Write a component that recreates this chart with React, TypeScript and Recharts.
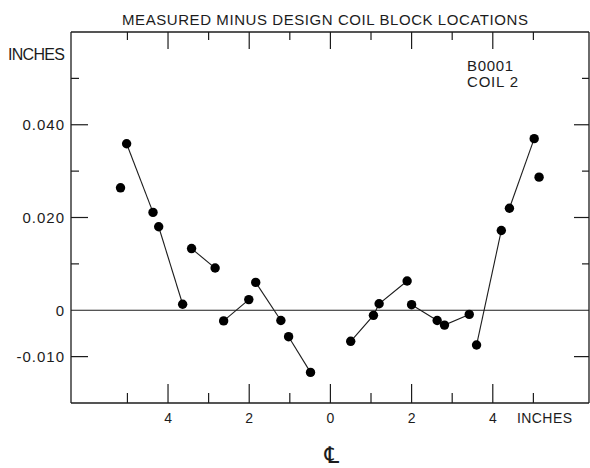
import React from "react";
import { ComposedChart, Line, XAxis, YAxis, ReferenceLine } from "recharts";

// tick positions and labels
const xTicks = [-5, -4, -3, -2, -1, 0, 1, 2, 3, 4, 5];
const xLabeled = [-4, -2, 0, 2, 4];
const yTicks = [-0.01, 0, 0.01, 0.02, 0.03, 0.04, 0.05];
const yLabelValues = [-0.01, 0, 0.02, 0.04];
const yLabelText = ["-0.010", "0", "0.020", "0.040"];

// measured minus design, left of centre line
const segA = [{ x: -5.17, y: 0.0264 }];
const segB = [
  { x: -5.02, y: 0.0359 },
  { x: -4.37, y: 0.0211 },
];
const segC = [
  { x: -4.23, y: 0.018 },
  { x: -3.64, y: 0.0013 },
];
const segD = [
  { x: -3.42, y: 0.0133 },
  { x: -2.84, y: 0.0091 },
];
const segE = [
  { x: -2.63, y: -0.0023 },
  { x: -2.01, y: 0.0023 },
];
const segF = [
  { x: -1.84, y: 0.006 },
  { x: -1.22, y: -0.0022 },
];
const segG = [
  { x: -1.03, y: -0.0057 },
  { x: -0.49, y: -0.0134 },
];

// right of centre line
const segH = [
  { x: 0.5, y: -0.0067 },
  { x: 1.06, y: -0.0011 },
  { x: 1.2, y: 0.0014 },
  { x: 1.89, y: 0.0063 },
];
const segI = [
  { x: 2.0, y: 0.0012 },
  { x: 2.63, y: -0.0022 },
  { x: 2.81, y: -0.0032 },
  { x: 3.42, y: -0.0009 },
];
const segJ = [
  { x: 3.6, y: -0.0075 },
  { x: 4.21, y: 0.0172 },
];
const segK = [
  { x: 4.41, y: 0.022 },
  { x: 5.02, y: 0.037 },
];
const segL = [{ x: 5.14, y: 0.0287 }];

const segments = [segA, segB, segC, segD, segE, segF, segG, segH, segI, segJ, segK, segL];

const ink = "#1c1c1c";
const font = "'Liberation Sans', Arial, sans-serif";

const BottomTick = (props: any) => {
  const { x, y, payload } = props;
  const major = xLabeled.includes(payload.value);
  return (
    <g>
      <line x1={x} y1={y} x2={x} y2={y - (major ? 19 : 10)} stroke={ink} strokeWidth={1.2} />
      {major && (
        <text x={x} y={y + 20} textAnchor="middle" fontSize={14} fontFamily={font} fill={ink}>
          {Math.abs(payload.value)}
        </text>
      )}
    </g>
  );
};

const TopTick = (props: any) => {
  const { x, y, payload } = props;
  const major = xLabeled.includes(payload.value);
  return <line x1={x} y1={y} x2={x} y2={y + (major ? 17 : 8)} stroke={ink} strokeWidth={1.2} />;
};

const LeftTick = (props: any) => {
  const { x, y, payload } = props;
  const i = yLabelValues.indexOf(payload.value);
  const major = i >= 0;
  return (
    <g>
      {payload.value !== 0 && (
        <line x1={x} y1={y} x2={x + (major ? 17 : 8)} y2={y} stroke={ink} strokeWidth={1.2} />
      )}
      {major && (
        <text x={x - 6} y={y + 5.5} textAnchor="end" fontSize={15} fontFamily={font} fill={ink} letterSpacing={1}>
          {yLabelText[i]}
        </text>
      )}
    </g>
  );
};

const RightTick = (props: any) => {
  const { x, y, payload } = props;
  if (payload.value === 0) return <g />;
  const major = yLabelValues.includes(payload.value);
  return <line x1={x} y1={y} x2={x - (major ? 15 : 7)} y2={y} stroke={ink} strokeWidth={1.2} />;
};

export default function App() {
  return (
    <div style={{ position: "absolute", left: 0, top: 0, width: 590, height: 468, background: "#fff" }}>
      <ComposedChart width={590} height={468} margin={{ top: 31, right: 0, bottom: 64, left: 70 }}>
        <XAxis
          xAxisId="b"
          dataKey="x"
          type="number"
          domain={[-6.39, 6.37]}
          allowDataOverflow
          ticks={xTicks}
          interval={0}
          height={1}
          tickSize={0}
          tickMargin={0}
          tickLine={false}
          axisLine={{ stroke: ink, strokeWidth: 1.3 }}
          tick={<BottomTick />}
        />
        <XAxis
          xAxisId="t"
          orientation="top"
          dataKey="x"
          type="number"
          domain={[-6.39, 6.37]}
          allowDataOverflow
          ticks={xTicks}
          interval={0}
          height={1}
          tickSize={0}
          tickMargin={0}
          tickLine={false}
          axisLine={{ stroke: ink, strokeWidth: 1.3 }}
          tick={<TopTick />}
        />
        <YAxis
          yAxisId="l"
          type="number"
          domain={[-0.02, 0.06]}
          allowDataOverflow
          ticks={yTicks}
          interval={0}
          width={1}
          tickSize={0}
          tickMargin={0}
          tickLine={false}
          axisLine={{ stroke: ink, strokeWidth: 1.3 }}
          tick={<LeftTick />}
        />
        <YAxis
          yAxisId="r"
          orientation="right"
          type="number"
          domain={[-0.02, 0.06]}
          allowDataOverflow
          ticks={yTicks}
          interval={0}
          width={1}
          tickSize={0}
          tickMargin={0}
          tickLine={false}
          axisLine={{ stroke: ink, strokeWidth: 1.3 }}
          tick={<RightTick />}
        />
        <ReferenceLine xAxisId="b" yAxisId="l" y={0} stroke={ink} strokeWidth={1.2} />
        {segments.map((seg, i) => (
          <Line
            key={i}
            xAxisId="b"
            yAxisId="l"
            data={seg}
            dataKey="y"
            stroke={ink}
            strokeWidth={1.1}
            dot={{ r: 4.7, fill: "#000", stroke: "none" }}
            activeDot={false}
            isAnimationActive={false}
          />
        ))}
      </ComposedChart>
      <svg
        width={590}
        height={468}
        style={{ position: "absolute", left: 0, top: 0, pointerEvents: "none" }}
        fontFamily={font}
        fill={ink}
      >
        <text x={325} y={24.5} textAnchor="middle" fontSize={15} textLength={406} lengthAdjust="spacing">
          MEASURED MINUS DESIGN COIL BLOCK LOCATIONS
        </text>
        <text x={8} y={60} fontSize={16} textLength={57} lengthAdjust="spacing">
          INCHES
        </text>
        <text x={467} y={71} fontSize={15} textLength={46} lengthAdjust="spacing">
          B0001
        </text>
        <text x={467} y={87} fontSize={15} textLength={51} lengthAdjust="spacing">
          COIL 2
        </text>
        <text x={517} y={423} fontSize={14} textLength={55} lengthAdjust="spacing">
          INCHES
        </text>
        <text x={332} y={463} textAnchor="middle" fontSize={23} fontFamily="'DejaVu Sans', sans-serif">
          ℄
        </text>
      </svg>
    </div>
  );
}
